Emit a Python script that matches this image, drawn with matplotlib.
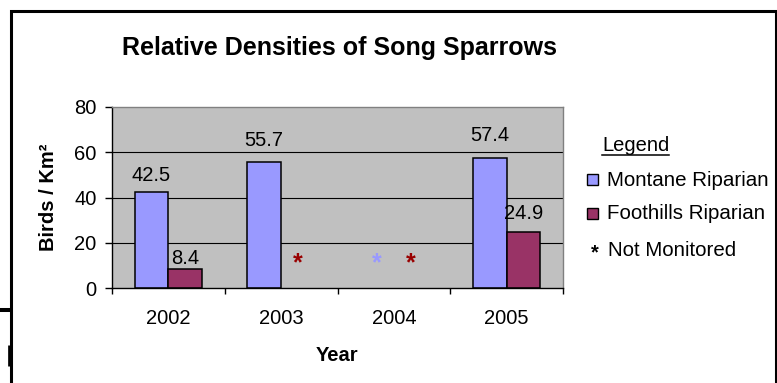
import numpy as np
import matplotlib
matplotlib.use('Agg')
import matplotlib.pyplot as plt
from matplotlib.lines import Line2D
from matplotlib.patches import Rectangle

plt.rcParams['font.family'] = ['Liberation Sans', 'DejaVu Sans']

years = ['2002', '2003', '2004', '2005']
montane = [42.5, 55.7, np.nan, 57.4]
foothills = [8.4, np.nan, np.nan, 24.9]
y_ticks = [0, 20, 40, 60, 80]

MONTANE = '#9999FF'
FOOTHILLS = '#993366'
DARK_RED = '#990000'

W, H = 777, 383


def px(x, y):
    # pixel position (from top-left) -> figure fraction
    return x / W, 1 - y / H


fig = plt.figure(figsize=(W / 100, H / 100), dpi=100)
fig.patch.set_facecolor('white')

left, bottom = px(112, 288)
ax = fig.add_axes([left, bottom, 451 / W, 181 / H])
ax.set_facecolor('#C0C0C0')

x = np.arange(len(years))
width = 0.3
series = [
    (montane, -width / 2, MONTANE, MONTANE, [11, 15.5, 0, 17]),
    (foothills, width / 2, FOOTHILLS, DARK_RED, [5, 0, 0, 13]),
]

for values, shift, color, star_color, gaps in series:
    for xi, v, gap in zip(x, values, gaps):
        if np.isnan(v):
            # not monitored that year
            ax.annotate('*', xy=(xi + shift, 0), xytext=(0, 13),
                        textcoords='offset points', ha='center', va='baseline',
                        fontsize=18, fontweight='bold', color=star_color)
            continue
        ax.bar(xi + shift, v, width, color=color, edgecolor='black',
               linewidth=1.1, zorder=2)
        ax.annotate(f'{v:.1f}', xy=(xi + shift, v), xytext=(0, gap * 0.72),
                    textcoords='offset points', ha='center', va='baseline',
                    fontsize=14.5)

for v in y_ticks[1:-1]:
    ax.axhline(v, color='black', linewidth=0.8, zorder=0.5)

ax.set_xlim(-0.5, len(years) - 0.5)
ax.set_ylim(y_ticks[0], y_ticks[-1])
ax.set_yticks(y_ticks)
ax.set_xticks(x)
ax.set_xticklabels(years)
ax.set_xticks(np.arange(len(years) + 1) - 0.5, minor=True)
ax.tick_params(axis='x', which='major', length=0, pad=15, labelsize=14.5)
ax.tick_params(axis='x', which='minor', length=4.3, width=1, direction='out')
ax.tick_params(axis='y', length=5, width=1, pad=6, labelsize=14.5)

for side in ['top', 'right']:
    ax.spines[side].set_color('#808080')
    ax.spines[side].set_linewidth(1)
for side in ['left', 'bottom']:
    ax.spines[side].set_color('black')
    ax.spines[side].set_linewidth(1)

# titles and axis labels
fig.text(*px(340, 55), 'Relative Densities of Song Sparrows', ha='center',
         va='baseline', fontsize=18, fontweight='bold')
fig.text(*px(337, 361), 'Year', ha='center', va='baseline',
         fontsize=14.5, fontweight='bold')
fig.text(*px(49, 197), 'Birds / Km²', ha='center', va='center', rotation=90,
         fontsize=14.5, fontweight='bold')

# legend drawn by hand
fig.text(*px(602, 151), 'Legend', ha='left', va='baseline', fontsize=14.5)
fig.add_artist(Line2D([602 / W, 669 / W], [1 - 155 / H] * 2, color='black',
                      linewidth=1.1, transform=fig.transFigure))
for label, color, yc in [('Montane Riparian', MONTANE, 180),
                         ('Foothills Riparian', FOOTHILLS, 213)]:
    fx, fy = px(587, yc + 5.5)
    fig.add_artist(Rectangle((fx, fy), 11 / W, 11 / H, facecolor=color,
                             edgecolor='black', linewidth=1,
                             transform=fig.transFigure))
    fig.text(*px(607, yc + 6), label, ha='left', va='baseline', fontsize=14.8)
fig.text(*px(595, 258), '*', ha='center', va='baseline', fontsize=14.5,
         fontweight='bold')
fig.text(*px(608, 256), 'Not Monitored', ha='left', va='baseline',
         fontsize=14.8)

# outer frame
frame = [
    ([10.5, 10.5, 775.5, 775.5], [383, 11, 11, 383], 2.2),
    ([0, 10.5], [310, 310], 2.9),
    ([10, 10], [345, 366], 3.4),
]
for xs, ys, lw in frame:
    fig.add_artist(Line2D([v / W for v in xs], [1 - v / H for v in ys],
                          color='black', linewidth=lw, solid_capstyle='butt',
                          solid_joinstyle='miter', transform=fig.transFigure))

fig.savefig('out.png', dpi=100)
